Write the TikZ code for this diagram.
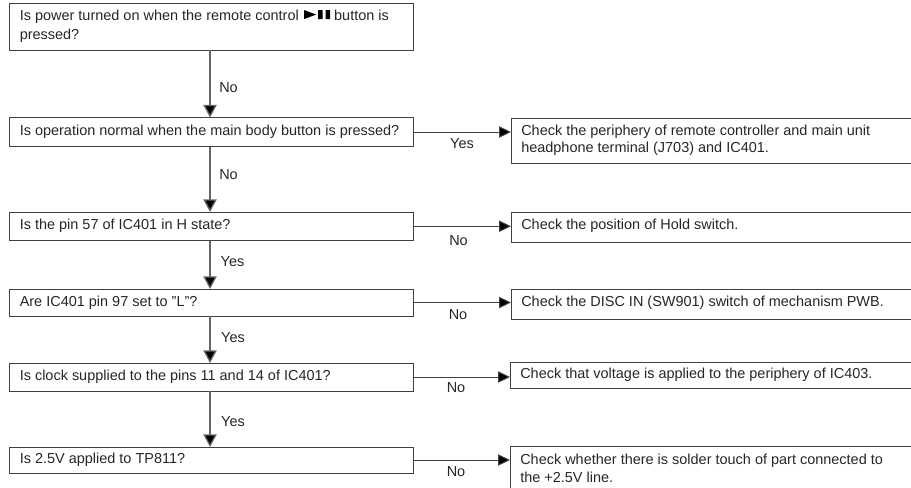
\documentclass[tikz,border=0pt]{standalone}
\usepackage{fontspec}
\setmainfont{Liberation Sans}
\usetikzlibrary{arrows.meta}
\tikzset{
 x=0.75pt,y=-0.75pt,
 box/.style={draw=black!75,line width=0.75pt,inner sep=0pt,outer sep=0pt,anchor=north west},
 txt/.style={font=\fontsize{10.85pt}{13pt}\selectfont,anchor=west,inner sep=0pt,align=left,text=black!85},
 lbl/.style={font=\fontsize{10.85pt}{13pt}\selectfont,inner sep=0pt,text=black!85},
 link/.style={draw=black!75,line width=0.75pt,-{Triangle[length=9pt,width=8.5pt,fill=black]}},
 vlink/.style={draw=black!60,line width=1pt,-{Triangle[length=9.5pt,width=10pt,fill=black]}}
}
\newcommand{\bx}[7]{% name x1 y1 x2 y2 ytext text
 \node[box,minimum width=(#4-#2)*0.75pt,minimum height=(#5-#3)*0.75pt] (#1) at (#2,#3) {};
 \node[txt] (#1t) at (#2+10,#6) {#7};}
\begin{document}
\begin{tikzpicture}
\useasboundingbox[clip] (0,0) rectangle (911,487);
\bx{a}{9.5}{3}{413.5}{50}{26.5}{Is power turned on when the remote control \hspace{1pt}\tikz[baseline=-1.5pt,x=0.75pt,y=0.75pt]{\fill[black] (0,-0.5)--(0,8.5)--(12,4)--cycle (14,-0.5) rectangle (18.5,8.5) (21.5,-0.5) rectangle (26,8.5);} button is\\[1.5pt]pressed?}
\bx{b}{9.5}{117.5}{413.5}{146.5}{131.5}{Is operation normal when the main body button is pressed?}
\bx{c}{9.5}{212}{413.5}{240.5}{226}{Is the pin 57 of IC401 in H state?}
\bx{d}{9.5}{289}{413.5}{316}{303}{Are IC401 pin 97 set to "L"?}
\bx{e}{9.5}{363}{413.5}{391}{377}{Is clock supplied to the pins 11 and 14 of IC401?}
\bx{f}{9.5}{447}{413.5}{473}{460}{Is 2.5V applied to TP811?}
\bx{p}{511}{118}{920}{163}{140.5}{Check the periphery of remote controller and main unit\\headphone terminal (J703) and IC401.}
\bx{q}{511}{212}{920}{242}{226}{Check the position of Hold switch.}
\bx{r}{511}{289.5}{920}{319}{303}{Check the DISC IN (SW901) switch of mechanism PWB.}
\bx{s}{510}{362}{920}{388.5}{375}{Check that voltage is applied to the periphery of IC403.}
\bx{t}{510}{446}{920}{495}{468.5}{Check whether there is solder touch of part connected to\\[0.5pt]the +2.5V line.}
\draw[vlink] ([xshift=-1.1pt]a.south) -- ([xshift=-1.1pt]b.north);
\draw[vlink] ([xshift=-1.1pt]b.south) -- ([xshift=-1.1pt]c.north);
\draw[vlink] ([xshift=-1.1pt]c.south) -- ([xshift=-1.1pt]d.north);
\draw[vlink] ([xshift=-1.1pt]d.south) -- ([xshift=-1.1pt]e.north);
\draw[vlink] ([xshift=-1.1pt]e.south) -- ([xshift=-1.1pt]f.north);
\draw[link] (b.east) -- (b.east -| p.west);
\draw[link] (c.east) -- (c.east -| q.west);
\draw[link] (d.east) -- (d.east -| r.west);
\draw[link] (e.east) -- (e.east -| s.west);
\draw[link] (f.east) -- (f.east -| t.west);
\node[lbl] (n1) at (228.5,87.5) {No};
\node[lbl] (n2) at (228.5,174.5) {No};
\node[lbl] (n3) at (232.5,262) {Yes};
\node[lbl] (n4) at (233,338) {Yes};
\node[lbl] (n5) at (233,422) {Yes};
\node[lbl] (m1) at (462,144) {Yes};
\node[lbl] (m2) at (458.5,240.5) {No};
\node[lbl] (m3) at (458,315) {No};
\node[lbl] (m4) at (456,388) {No};
\node[lbl] (m5) at (456,472) {No};
\end{tikzpicture}
\end{document}
